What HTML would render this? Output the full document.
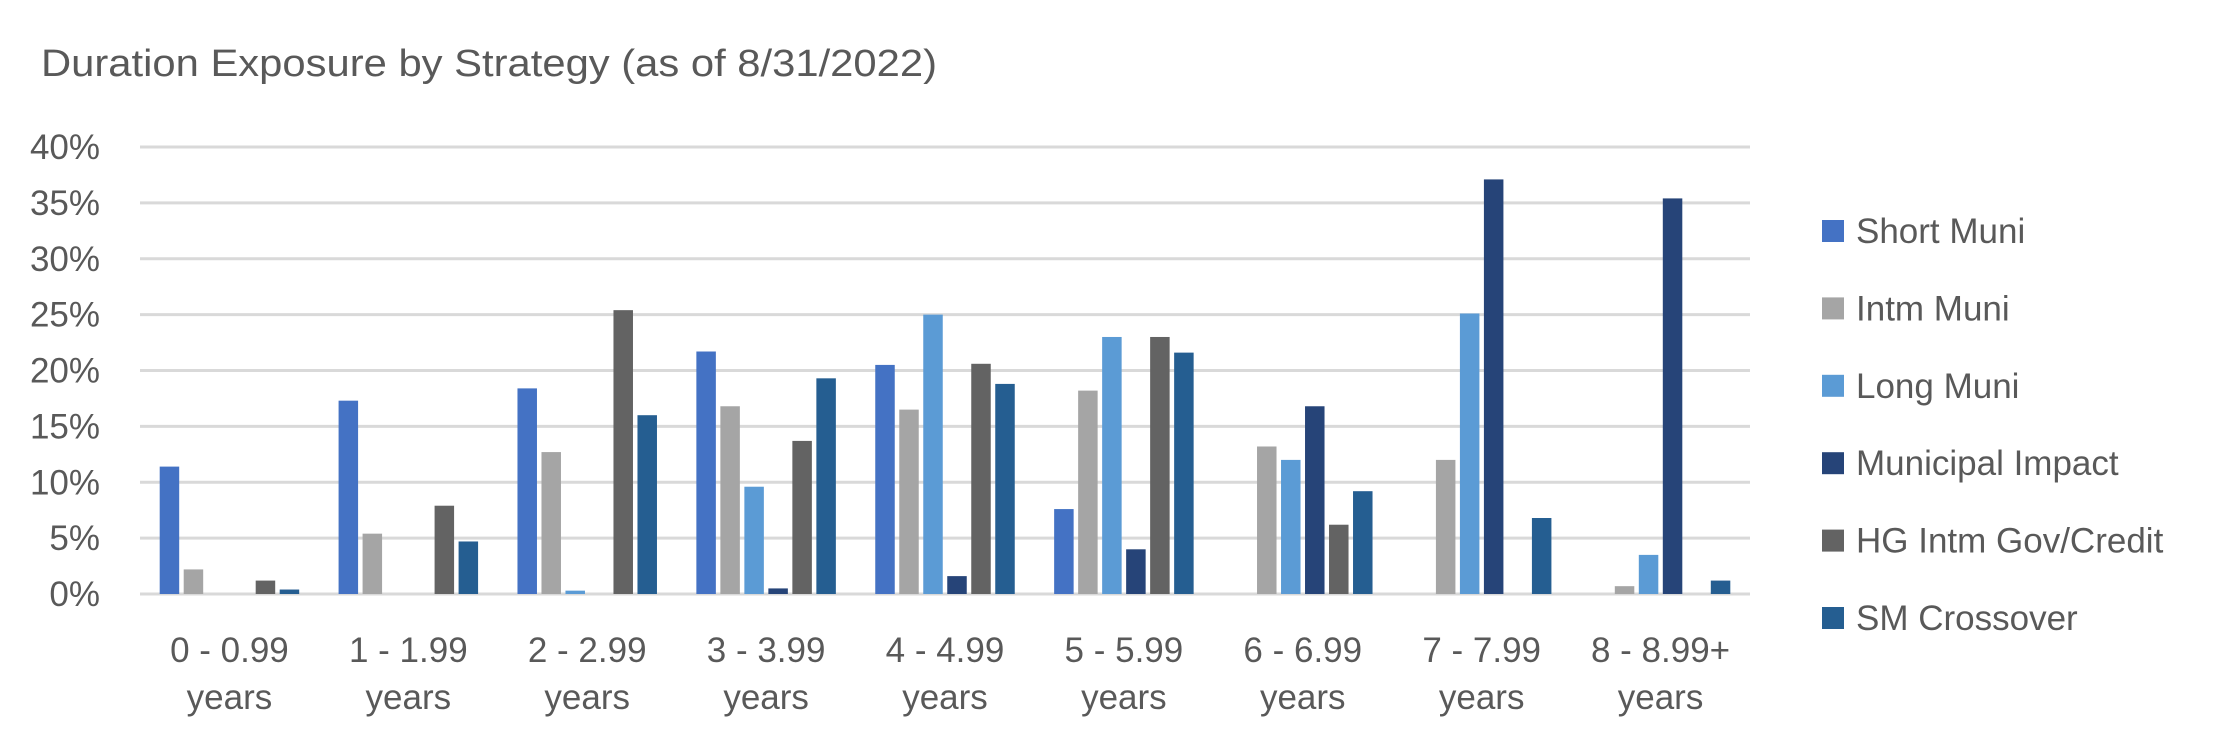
<!DOCTYPE html>
<html><head><meta charset="utf-8"><style>
html,body{margin:0;padding:0;background:#fff;}
svg{display:block;font-family:"Liberation Sans",sans-serif;}
</style></head><body>
<svg id="chart" width="2234" height="754" viewBox="0 0 2234 754">
<text x="41" y="76" font-size="38" fill="#595959" textLength="896" lengthAdjust="spacingAndGlyphs">Duration Exposure by Strategy (as of 8/31/2022)</text>
<g id="grid"></g>
<g id="yaxis"></g>
<g id="bars"></g>
<g id="xaxis"></g>
<g id="legend"></g>
</svg>
<script>
const categories = ["0 - 0.99","1 - 1.99","2 - 2.99","3 - 3.99","4 - 4.99","5 - 5.99","6 - 6.99","7 - 7.99","8 - 8.99+"];
const seriesNames = ["Short Muni","Intm Muni","Long Muni","Municipal Impact","HG Intm Gov/Credit","SM Crossover"];
const shortMuni = [11.4,17.3,18.4,21.7,20.5,7.6,0,0,0];
const intmMuni = [2.2,5.4,12.7,16.8,16.5,18.2,13.2,12.0,0.7];
const longMuni = [0,0,0.3,9.6,25.0,23.0,12.0,25.1,3.5];
const municipalImpact = [0,0,0,0.5,1.6,4.0,16.8,37.1,35.4];
const hgIntm = [1.2,7.9,25.4,13.7,20.6,23.0,6.2,0,0];
const smCrossover = [0.4,4.7,16.0,19.3,18.8,21.6,9.2,6.8,1.2];
const yTicks = [0,5,10,15,20,25,30,35,40];
const colors = ["#4472C4","#A5A5A5","#5B9BD5","#264478","#636363","#255E91"];

const series=[shortMuni,intmMuni,longMuni,municipalImpact,hgIntm,smCrossover];
const NS="http://www.w3.org/2000/svg";
const L=140,R=1750,Y0=594,Y40=147;
const y=v=>Y0-(v/40)*(Y0-Y40);
const catW=(R-L)/categories.length;
const xc=i=>L+(i+0.5)*catW;
function mk(tag,attrs,parent){const e=document.createElementNS(NS,tag);for(const k in attrs)e.setAttribute(k,attrs[k]);parent.appendChild(e);return e;}
const grid=document.getElementById('grid'),ya=document.getElementById('yaxis'),bars=document.getElementById('bars'),xa=document.getElementById('xaxis'),lg=document.getElementById('legend');
yTicks.forEach(t=>{
  const l=mk('line',{x1:L,x2:R,y1:y(t),y2:y(t),stroke:'#d9d9d9','stroke-width':3},grid);
  
  
  const tx=mk('text',{x:100,y:y(t)+12,'text-anchor':'end','font-size':35,fill:'#595959'},ya);
  tx.textContent=t+'%';
  
  
});
const step=24,bw=19.5;
series.forEach((s,si)=>{
  s.forEach((v,ci)=>{
    if(v<=0)return;
    const cx=xc(ci)+(si-2.5)*step;
    const r=mk('rect',{x:cx-bw/2,y:y(v),width:bw,height:Y0-y(v),fill:colors[si]},bars);
    
    
  });
});
categories.forEach((c,i)=>{
  const t=mk('text',{x:xc(i),y:662,'text-anchor':'middle','font-size':35,fill:'#595959'},xa);
  t.textContent=c;
  
  
  const t2=mk('text',{x:xc(i),y:709,'text-anchor':'middle','font-size':35,fill:'#595959'},xa);
  t2.textContent='years';
  
  
});
seriesNames.forEach((n,i)=>{
  const cy=231+i*77.4;
  const r=mk('rect',{x:1822,y:cy-11,width:22,height:22,fill:colors[i]},lg);
  
  
  const t=mk('text',{x:1856,y:cy+12,'font-size':35,fill:'#595959'},lg);
  t.textContent=n;
  
  
});
</script>
</body></html>
